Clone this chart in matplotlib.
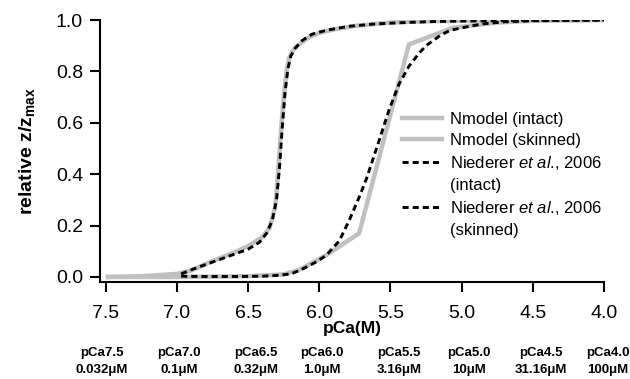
import matplotlib
matplotlib.use("Agg")
import matplotlib.pyplot as plt
from matplotlib.lines import Line2D

plt.rcParams['font.family'] = ['Liberation Sans', 'DejaVu Sans']
plt.rcParams['mathtext.fontset'] = 'custom'
plt.rcParams['mathtext.rm'] = 'Liberation Sans'
plt.rcParams['mathtext.it'] = 'Liberation Sans:italic'
plt.rcParams['mathtext.bf'] = 'Liberation Sans:bold'
plt.rcParams['lines.scale_dashes'] = False

# ---- data ----
nmodel_intact_x = [7.5, 7.25, 7.0, 6.9, 6.75, 6.6, 6.5, 6.4, 6.35, 6.31, 6.29, 6.27, 6.25,
                   6.23, 6.21, 6.18, 6.14, 6.08, 6.0, 5.9, 5.75, 5.5, 5.25, 5.0, 4.5, 4.0]
nmodel_intact_y = [0.0, 0.003, 0.012, 0.025, 0.062, 0.095, 0.12, 0.155, 0.19, 0.27, 0.4, 0.56,
                   0.7, 0.8, 0.855, 0.885, 0.905, 0.93, 0.95, 0.963, 0.977, 0.99, 0.995, 0.997, 1.0, 1.0]

nmodel_skinned_x = [7.5, 7.0, 6.5, 6.25, 6.14, 5.95, 5.72, 5.37, 5.06, 4.75, 4.5, 4.0]
nmodel_skinned_y = [0.0, 0.0, 0.003, 0.01, 0.028, 0.085, 0.17, 0.905, 0.97, 0.99, 0.997, 1.0]

niederer_intact_x = [6.97, 6.9, 6.8, 6.7, 6.6, 6.5, 6.42, 6.37, 6.33, 6.3, 6.28, 6.26, 6.24,
                     6.22, 6.2, 6.17, 6.12, 6.05, 5.95, 5.8, 5.6, 5.4, 5.2, 5.0, 4.5, 4.0]
niederer_intact_y = [0.012, 0.028, 0.048, 0.068, 0.088, 0.108, 0.135, 0.17, 0.22, 0.3, 0.42, 0.58,
                     0.72, 0.81, 0.86, 0.89, 0.92, 0.945, 0.96, 0.975, 0.985, 0.99, 0.994, 0.996, 0.999, 1.0]

niederer_skinned_x = [6.97, 6.8, 6.6, 6.4, 6.3, 6.2, 6.14, 6.05, 6.0, 5.95, 5.86, 5.79, 5.72,
                      5.67, 5.58, 5.51, 5.44, 5.37, 5.3, 5.25, 5.15, 5.08, 4.95, 4.85, 4.7, 4.5, 4.0]
niederer_skinned_y = [0.003, 0.002, 0.002, 0.003, 0.006, 0.012, 0.025, 0.05, 0.066, 0.085, 0.14,
                      0.22, 0.31, 0.38, 0.53, 0.65, 0.75, 0.82, 0.87, 0.9, 0.94, 0.96, 0.975,
                      0.985, 0.993, 0.997, 1.0]

xticks = [7.5, 7.0, 6.5, 6.0, 5.5, 5.0, 4.5, 4.0]
yticks = [0.0, 0.2, 0.4, 0.6, 0.8, 1.0]
pca_labels = ['pCa7.5', 'pCa7.0', 'pCa6.5', 'pCa6.0', 'pCa5.5', 'pCa5.0', 'pCa4.5', 'pCa4.0']
conc_labels = ['0.032μM', '0.1μM', '0.32μM', '1.0μM', '3.16μM', '10μM', '31.16μM', '100μM']
legend_labels = ['Nmodel (intact)', 'Nmodel (skinned)',
                 r'Niederer $\mathit{et\ al}$., 2006', '(intact)',
                 r'Niederer $\mathit{et\ al}$., 2006', '(skinned)']

# ---- layout ----
W, H = 630, 379
fig = plt.figure(figsize=(6.3, 3.79), dpi=100)
ax = fig.add_axes([100 / W, 1 - 282 / H, 504 / W, 262 / H])

gray = '#c0c0c0'
glw = 3.2
dlw = 2.1
dash = (4.4, 2.9)

ax.plot(nmodel_intact_x, nmodel_intact_y, color=gray, lw=glw, zorder=2, solid_capstyle='butt')
ax.plot(nmodel_skinned_x, nmodel_skinned_y, color=gray, lw=glw, zorder=2, solid_capstyle='butt')
ax.plot(niederer_intact_x, niederer_intact_y, color='black', lw=dlw, dashes=dash, zorder=3)
ax.plot(niederer_skinned_x, niederer_skinned_y, color='black', lw=dlw, dashes=dash, zorder=3)

ax.set_xlim(7.54, 4.0)
ax.set_ylim(-0.0195, 1.0)
ax.set_xticks(xticks)
ax.set_xticklabels([f'{v:.1f}' for v in xticks])
ax.set_yticks(yticks)
ax.set_yticklabels([f'{v:.1f}' for v in yticks])

for s in ['top', 'right']:
    ax.spines[s].set_visible(False)
for s in ['left', 'bottom']:
    ax.spines[s].set_linewidth(1.5)
ax.tick_params(direction='out', length=7.2, width=1.5, labelsize=14, pad=5, color='black')
ax.tick_params(axis='x', pad=9)

ax.set_xlabel('pCa(M)', fontsize=12.5, fontweight='bold')
ax.xaxis.label.set_va('center')
ax.xaxis.set_label_coords(0.5, (282 - 329) / 262)
ax.set_ylabel(r'$\mathbf{relative\ z/z_{max}}$', fontsize=14)
ax.yaxis.label.set_va('center')
ax.yaxis.set_label_coords((27 - 100) / 504, 0.5)

handles = [Line2D([], [], color=gray, lw=glw),
           Line2D([], [], color=gray, lw=glw),
           Line2D([], [], color='black', lw=dlw, dashes=dash),
           Line2D([], [], color='none'),
           Line2D([], [], color='black', lw=dlw, dashes=dash),
           Line2D([], [], color='none')]
leg = ax.legend(handles, legend_labels, loc='upper left',
                bbox_to_anchor=(402 / W, 1 - 112 / H), bbox_transform=fig.transFigure,
                frameon=False, fontsize=12, handlelength=2.4, handletextpad=0.5,
                labelspacing=0.36, borderpad=0, borderaxespad=0)

ann_x = [102, 179, 256, 322, 399, 469, 541, 608]
for px, t1, t2 in zip(ann_x, pca_labels, conc_labels):
    fig.text(px / W, 1 - 353 / H, t1, ha='center', va='center', fontsize=9.5, fontweight='bold')
    fig.text(px / W, 1 - 370 / H, t2, ha='center', va='center', fontsize=9.5, fontweight='bold')

fig.savefig('out.png', dpi=100)
